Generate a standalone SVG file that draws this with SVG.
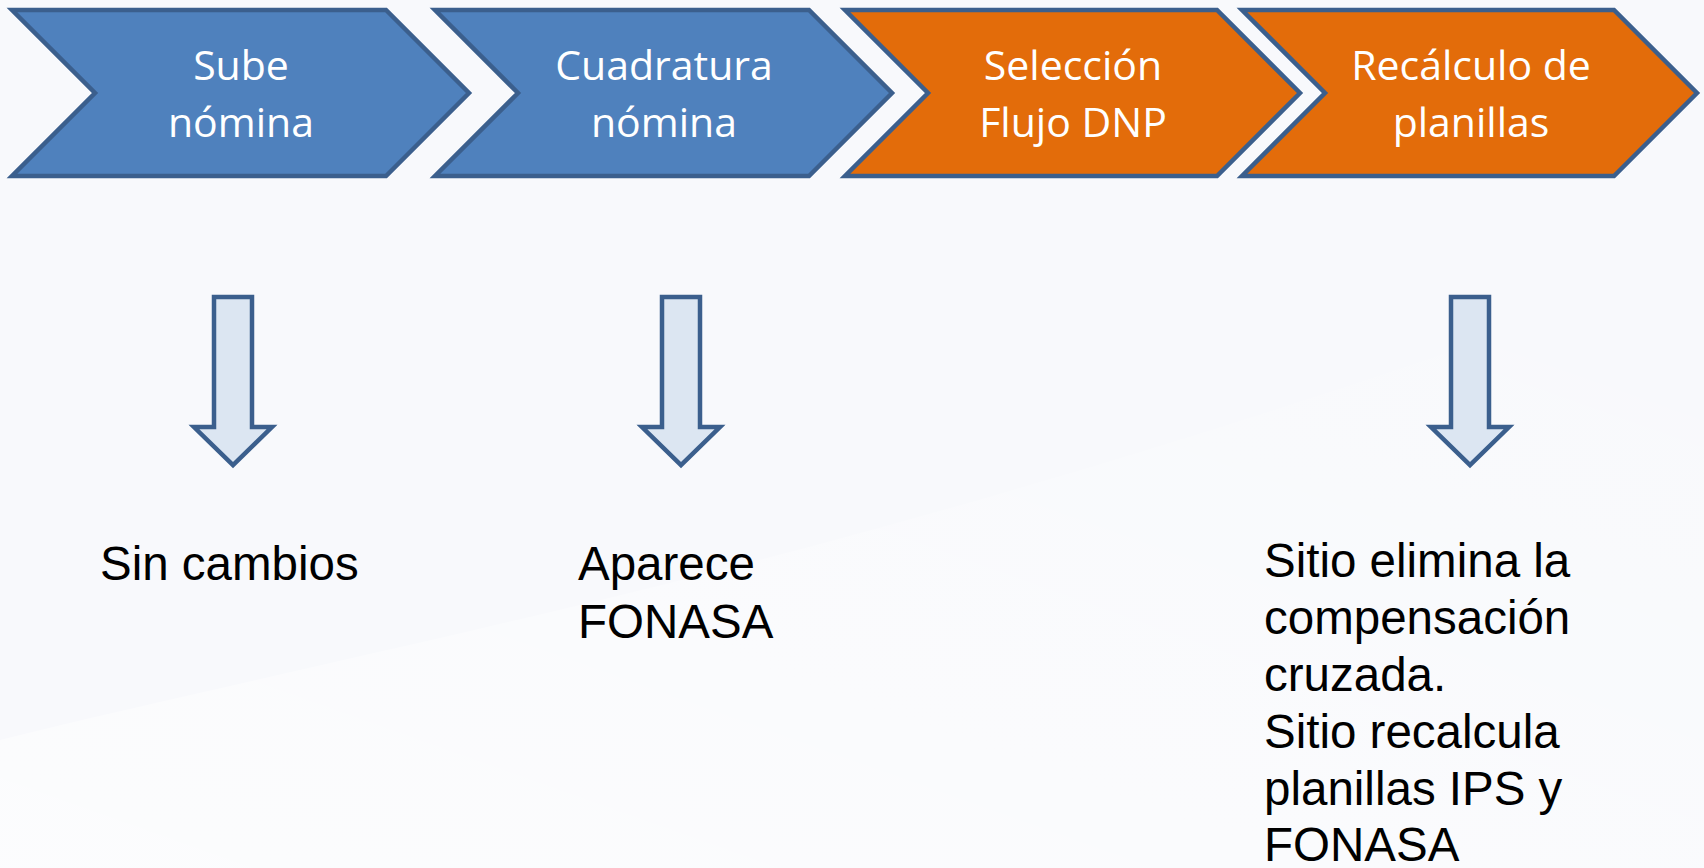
<svg xmlns="http://www.w3.org/2000/svg" width="1704" height="868" viewBox="0 0 1704 868">
  <defs>
    <linearGradient id="swoosh" x1="0" y1="1" x2="1" y2="0">
      <stop offset="0" stop-color="#ffffff" stop-opacity="0.9"/>
      <stop offset="1" stop-color="#ffffff" stop-opacity="0"/>
    </linearGradient>
    <style>
      .blue { fill: #4F81BD; stroke: #3B5F8D; stroke-width: 4.5; stroke-linejoin: miter; }
      .orange { fill: #E36C0A; stroke: #3B5F8D; stroke-width: 4.5; stroke-linejoin: miter; }
      .arrow { fill: #DCE6F2; stroke: #3B5F8D; stroke-width: 4.5; stroke-linejoin: miter; }
      .ctext { font-family: "Open Sans", "Noto Sans", sans-serif; font-size: 41px; fill: #ffffff; text-anchor: middle; }
      .btext { font-family: "Liberation Sans", Arial, sans-serif; font-size: 47.5px; fill: #000000; }
    </style>
  </defs>
  <rect x="0" y="0" width="1704" height="868" fill="#F8F9FC"/>
  <path d="M0,740 C400,640 900,560 1704,260 L1704,868 L0,868 Z" fill="url(#swoosh)" opacity="0.6"/>

  <g id="node-sube-nomina">
    <polygon class="blue" points="12,10 386,10 469,93 386,176 12,176 95,93"/>
    <text class="ctext" x="241" y="80">Sube</text>
    <text class="ctext" x="241" y="137">nómina</text>
  </g>
  <g id="node-cuadratura-nomina">
    <polygon class="blue" points="435,10 809,10 892,93 809,176 435,176 518,93"/>
    <text class="ctext" x="664" y="80">Cuadratura</text>
    <text class="ctext" x="664" y="137">nómina</text>
  </g>
  <g id="node-seleccion-flujo">
    <polygon class="orange" points="845,10 1217,10 1300,93 1217,176 845,176 928,93"/>
    <text class="ctext" x="1073" y="80">Selección</text>
    <text class="ctext" x="1073" y="137">Flujo DNP</text>
  </g>
  <g id="node-recalculo-planillas">
    <polygon class="orange" points="1242,10 1614,10 1697,93 1614,176 1242,176 1325,93"/>
    <text class="ctext" x="1471" y="80">Recálculo de</text>
    <text class="ctext" x="1471" y="137">planillas</text>
  </g>

  <g id="connectors">
    <path class="arrow" d="M214,297 H252 V427 H272 L233,465 L194,427 H214 Z"/>
    <path class="arrow" d="M662,297 H700 V427 H720 L681,465 L642,427 H662 Z"/>
    <path class="arrow" d="M1451,297 H1489 V427 H1509 L1470,465 L1431,427 H1451 Z"/>
  </g>

  <g id="node-sin-cambios">
    <text class="btext" x="100" y="580">Sin cambios</text>
  </g>
  <g id="node-aparece-fonasa">
    <text class="btext" x="578" y="580">Aparece</text>
    <text class="btext" x="578" y="638">FONASA</text>
  </g>
  <g id="node-sitio-elimina">
    <text class="btext" x="1264" y="577">Sitio elimina la</text>
    <text class="btext" x="1264" y="634">compensación</text>
    <text class="btext" x="1264" y="691">cruzada.</text>
    <text class="btext" x="1264" y="748">Sitio recalcula</text>
    <text class="btext" x="1264" y="805">planillas IPS y</text>
    <text class="btext" x="1264" y="861">FONASA</text>
  </g>
</svg>
